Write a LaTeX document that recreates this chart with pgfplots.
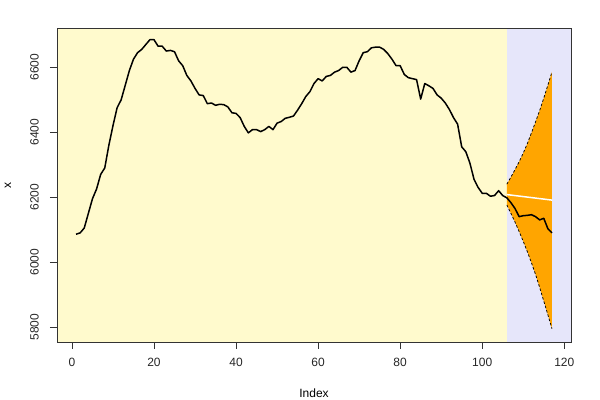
\documentclass[border=0pt]{standalone}
\usepackage{pgfplots}
\pgfplotsset{compat=1.18}
\usepackage{fontspec}
\setmainfont{Liberation Sans}
\definecolor{bgyel}{RGB}{255,250,205}
\definecolor{bglav}{RGB}{230,230,250}
\definecolor{fcorange}{RGB}{255,165,0}
\begin{document}
\begin{tikzpicture}
\useasboundingbox (0,0) rectangle (600bp,400bp);
\begin{axis}[
  at={(57bp,58bp)}, anchor=south west,
  scale only axis, width=514bp, height=314bp,
  xmin=-3.64, xmax=121.64, ymin=5754, ymax=6721,
  axis on top,
  tick align=outside, xtick pos=bottom, ytick pos=left,
  major tick length=7bp,
  xtick={0,20,40,60,80,100,120},
  ytick={5800,6000,6200,6400,6600},
  /pgf/number format/assume math mode=true,
  /pgf/number format/1000 sep={},
  tick label style={font=\fontsize{12bp}{14bp}\selectfont, text=black!85},
  label style={font=\fontsize{12bp}{14bp}\selectfont},
  xticklabel style={anchor=north, inner sep=0pt, yshift=-9bp},
  yticklabel style={rotate=90, anchor=south, inner sep=0pt, yshift=11bp},
  xlabel={Index}, ylabel={x},
  xlabel style={at={(0.5,0)}, anchor=center, yshift=-51bp},
  ylabel style={at={(0,0.5)}, anchor=center, yshift=49bp},
  axis line style={black!80, line width=0.8bp},
  every tick/.style={black!80, line width=0.8bp},
  clip=true,
]
\addplot[draw=none, fill=bgyel] coordinates {(-3.64,5754) (106,5754) (106,6721) (-3.64,6721)} -- cycle;
\addplot[draw=none, fill=bglav] coordinates {(106,5754) (121.64,5754) (121.64,6721) (106,6721)} -- cycle;
% forecast band
\addplot[draw=none, fill=fcorange] coordinates {
(106,6240) (107,6262) (108,6285) (109,6309) (110,6336) (111,6365) (112,6398) (113,6432) (114,6467) (115,6505) (116,6545) (117,6586)
(117,5795) (116,5838) (115,5880) (114,5922) (113,5962) (112,5998) (111,6032) (110,6064) (109,6094) (108,6123) (107,6150) (106,6176)
} -- cycle;
\addplot[black, line width=0.75bp, dash pattern=on 2.5bp off 2bp] coordinates {
(106,6240) (107,6262) (108,6285) (109,6309) (110,6336) (111,6365) (112,6398) (113,6432) (114,6467) (115,6505) (116,6545) (117,6586)};
\addplot[black, line width=0.75bp, dash pattern=on 2.5bp off 2bp] coordinates {
(106,6176) (107,6150) (108,6123) (109,6094) (110,6064) (111,6032) (112,5998) (113,5962) (114,5922) (115,5880) (116,5838) (117,5795)};
\addplot[white, line width=1.5bp] coordinates {(106,6208) (117,6191)};
% observed series
\addplot[black, line width=1.5bp, line join=round] coordinates {
(1,6086) (2,6090) (3,6105) (4,6150) (5,6195) (6,6225) (7,6270) (8,6290) (9,6360) (10,6420)
(11,6475) (12,6500) (13,6545) (14,6590) (15,6625) (16,6645) (17,6655) (18,6670) (19,6685) (20,6685)
(21,6665) (22,6665) (23,6650) (24,6652) (25,6648) (26,6620) (27,6605) (28,6575) (29,6558) (30,6535)
(31,6515) (32,6513) (33,6488) (34,6490) (35,6483) (36,6486) (37,6485) (38,6478) (39,6460) (40,6458)
(41,6445) (42,6418) (43,6398) (44,6408) (45,6408) (46,6402) (47,6408) (48,6418) (49,6408) (50,6428)
(51,6433) (52,6443) (53,6446) (54,6450) (55,6468) (56,6488) (57,6510) (58,6525) (59,6550) (60,6565)
(61,6558) (62,6572) (63,6575) (64,6585) (65,6590) (66,6600) (67,6600) (68,6585) (69,6590) (70,6620)
(71,6645) (72,6648) (73,6660) (74,6662) (75,6662) (76,6655) (77,6642) (78,6625) (79,6605) (80,6605)
(81,6578) (82,6568) (83,6565) (84,6562) (85,6502) (86,6550) (87,6543) (88,6535) (89,6515) (90,6505)
(91,6490) (92,6470) (93,6445) (94,6425) (95,6355) (96,6340) (97,6305) (98,6255) (99,6230) (100,6212)
(101,6212) (102,6203) (103,6205) (104,6220) (105,6205) (106,6198) (107,6183) (108,6165) (109,6140) (110,6143)
(111,6144) (112,6146) (113,6140) (114,6130) (115,6135) (116,6103) (117,6090)};
\end{axis}
\end{tikzpicture}
\end{document}
